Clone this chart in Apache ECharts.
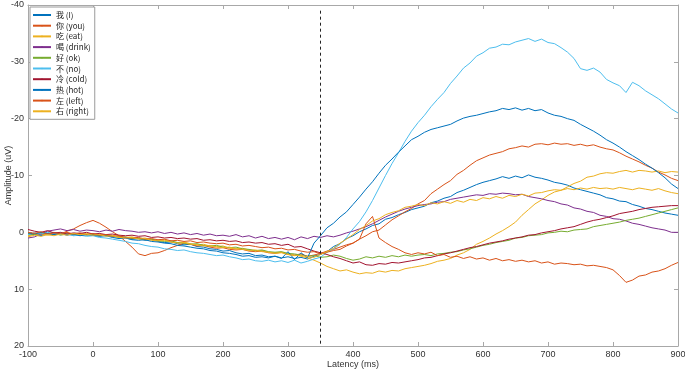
<!DOCTYPE html>
<html>
<head>
<meta charset="utf-8">
<script src="https://cdn.jsdelivr.net/npm/echarts@6/dist/echarts.min.js"></script>
<style>
  html, body { margin: 0; padding: 0; background: #fff; }
  #chart { width: 685px; height: 372px; }
</style>
</head>
<body>
<div id="chart"></div>
<script>
// sample times, 10 ms steps from -100 to 900
const latency = Array.from({ length: 101 }, (_, i) => -100 + i * 10)

const words = ['我 (I)', '你 (you)', '吃 (eat)', '喝 (drink)', '好 (ok)', '不 (no)', '冷 (cold)', '热 (hot)', '左 (left)', '右 (right)']
const colors = ['#0072BD', '#D95319', '#EDB120', '#7E2F8E', '#77AC30', '#4DBEEE', '#A2142F', '#0072BD', '#D95319', '#EDB120']

const xTicks = [-100, 900, 100]
const yTicks = [-40, 20, 10]

// amplitudes (uV), one row per 100 ms
const woI = [
  0.5, 0.3, 0.6, 0.2, 0.4, 0.1, 0.3, 0.5, 0.2, 0.4,
  0.3, 0.6, 0.5, 0.8, 0.7, 1.0, 1.2, 1.1, 1.4, 1.3,
  1.6, 1.8, 1.7, 2.0, 2.2, 2.1, 2.5, 2.6, 2.9, 3.0,
  3.3, 3.2, 3.6, 3.8, 3.7, 4.1, 4.0, 4.3, 4.2, 4.5,
  4.3, 4.6, 4.4, 4.7, 4.2, 3.9, 3.4, 2.5, 2.0, 1.1,
  0.6, -0.1, -0.6, -1.2, -1.5, -2.3, -2.6, -3.1, -3.5, -4.0,
  -4.3, -4.6, -5.2, -5.5, -6.0, -6.3, -7.0, -7.4, -7.9, -8.4,
  -8.8, -9.1, -9.4, -9.8, -9.5, -9.9, -9.6, -10.1, -9.7, -9.5,
  -9.2, -8.8, -8.6, -8.3, -7.8, -7.5, -7.2, -6.9, -6.6, -6.1,
  -5.9, -5.5, -5.4, -4.9, -4.6, -4.2, -4.0, -3.7, -3.4, -3.2,
  -3.0
]
const niYou = [
  0.3, 0.1, 0.4, 0.2, 0.0, 0.3, -0.2, -0.6, -1.2, -1.7,
  -2.1, -1.6, -0.9, -0.1, 0.6, 1.6, 2.6, 3.8, 4.1, 3.7,
  3.6, 3.2, 2.7, 2.3, 1.9, 2.1, 2.4, 2.3, 2.6, 2.8,
  2.7, 3.0, 3.1, 3.0, 3.3, 3.4, 3.3, 3.6, 3.7, 3.5,
  3.9, 4.0, 3.8, 4.2, 4.0, 3.7, 3.3, 3.0, 2.6, 2.2,
  1.9, 1.2, 0.6, -0.1, -0.4, -1.3, -2.2, -2.9, -3.6, -4.2,
  -5.0, -5.6, -6.8, -7.6, -8.4, -9.1, -10.2, -10.9, -11.8, -12.6,
  -13.1, -13.6, -13.9, -14.2, -14.7, -14.9, -15.2, -15.0, -15.5, -15.6,
  -15.4, -15.7, -15.5, -15.6, -15.3, -15.5, -15.2, -15.4, -15.0, -14.7,
  -14.5, -14.0, -13.4, -12.9, -12.4, -11.8, -11.3, -10.6, -10.1, -9.5,
  -9.1
]
const chiEat = [
  0.6, 0.4, 0.2, 0.5, 0.3, 0.4, 0.1, 0.3, 0.5, 0.2,
  0.4, 0.3, 0.6, 0.5, 0.8, 0.9, 0.8, 1.1, 1.0, 1.3,
  1.4, 1.3, 1.7, 1.8, 1.7, 2.0, 2.2, 2.1, 2.4, 2.5,
  2.4, 2.8, 2.9, 2.8, 3.1, 3.3, 3.2, 3.5, 3.6, 3.5,
  3.9, 4.0, 4.2, 4.5, 4.9, 5.4, 6.0, 6.4, 6.8, 6.6,
  7.0, 7.3, 7.1, 7.2, 6.8, 7.0, 6.7, 6.8, 6.4, 6.2,
  6.0, 5.8, 5.5, 5.1, 4.9, 4.6, 4.0, 3.6, 3.0, 2.1,
  1.6, 1.0, 0.3, -0.3, -1.0, -1.8, -3.0, -4.0, -5.0, -5.7,
  -6.5, -7.1, -7.4, -8.0, -8.6, -9.0, -9.7, -9.9, -10.3, -10.5,
  -10.4, -10.7, -10.9, -10.6, -10.9, -10.8, -10.6, -10.8, -10.5, -10.7,
  -10.6
]
const heDrink = [
  1.0, 0.8, 0.3, -0.2, -0.4, -0.6, -0.3, -0.5, -0.2, -0.4,
  -0.3, -0.1, -0.4, -0.2, -0.5, -0.3, -0.2, 0.0, -0.1, 0.1,
  -0.1, 0.2, 0.0, 0.3, 0.1, 0.4, 0.2, 0.5, 0.3, 0.6,
  0.5, 0.7, 0.4, 0.8, 0.6, 1.0, 0.7, 1.1, 0.9, 1.2,
  0.9, 1.3, 0.8, 1.1, 0.7, 0.9, 0.6, 0.8, 0.5, 0.1,
  -0.2, -0.6, -1.0, -1.5, -2.1, -2.7, -3.2, -3.7, -4.1, -4.4,
  -4.7, -4.9, -5.0, -5.3, -5.4, -5.8, -6.0, -6.2, -6.4, -6.6,
  -6.5, -6.8, -6.7, -6.9, -6.8, -6.6, -6.7, -6.3, -6.1, -5.9,
  -5.6, -5.4, -5.0, -4.8, -4.3, -4.1, -3.7, -3.5, -3.0, -2.8,
  -2.4, -2.3, -2.0, -1.6, -1.4, -1.1, -0.8, -0.6, -0.4, 0.0,
  0.0
]
const haoOk = [
  0.2, 0.4, 0.1, 0.3, 0.2, 0.5, 0.3, 0.4, 0.2, 0.5,
  0.4, 0.6, 0.5, 0.7, 0.9, 0.8, 1.1, 1.0, 1.3, 1.2,
  1.5, 1.6, 1.5, 1.8, 1.9, 2.1, 2.0, 2.3, 2.4, 2.3,
  2.6, 2.7, 2.6, 2.9, 3.0, 3.2, 3.1, 3.4, 3.5, 3.4,
  3.7, 3.8, 4.0, 4.2, 4.1, 4.4, 4.3, 4.0, 4.2, 4.6,
  4.9, 4.7, 4.3, 4.5, 4.2, 4.4, 4.1, 4.3, 4.0, 4.2,
  4.0, 3.9, 4.1, 3.8, 3.7, 3.5, 3.4, 3.1, 2.9, 2.6,
  2.3, 2.1, 1.8, 1.6, 1.4, 1.0, 0.9, 0.6, 0.5, 0.4,
  0.1, 0.0, -0.2, -0.1, -0.4, -0.5, -0.6, -1.0, -1.2, -1.4,
  -1.6, -1.8, -2.1, -2.3, -2.5, -2.8, -3.1, -3.4, -3.7, -4.0,
  -4.3
]
const buNo = [
  0.4, 0.1, 0.3, 0.0, 0.2, 0.4, 0.3, 0.6, 0.5, 0.7,
  0.6, 0.9, 1.0, 1.2, 1.4, 1.6, 1.9, 2.0, 2.3, 2.5,
  2.6, 2.9, 3.0, 3.2, 3.1, 3.4, 3.6, 3.7, 3.9, 4.1,
  4.0, 4.3, 4.5, 4.8, 4.7, 5.0, 5.1, 4.9, 5.2, 5.0,
  5.3, 4.9, 5.4, 5.1, 4.7, 4.4, 3.5, 2.9, 2.1, 0.9,
  -0.6, -1.9, -3.6, -5.6, -7.8, -10.0, -12.1, -14.0, -16.0, -17.8,
  -19.3, -20.6, -22.1, -23.4, -24.6, -26.2, -27.5, -28.9, -29.8, -31.0,
  -31.6, -32.4, -32.6, -33.1, -33.0, -33.5, -33.8, -34.1, -33.6, -34.0,
  -33.4, -33.2, -32.5, -31.7, -30.6, -28.8, -28.5, -28.9, -28.2, -26.9,
  -26.3, -25.8, -24.6, -26.4, -25.8, -24.9, -24.2, -23.5, -22.6, -21.7,
  -21.0
]
const lengCold = [
  -0.5, -0.2, 0.0, -0.3, 0.1, 0.0, 0.3, 0.1, 0.2, 0.0,
  0.3, 0.2, 0.4, 0.3, 0.5, 0.6, 0.5, 0.7, 0.6, 0.9,
  0.8, 1.0, 0.9, 1.1, 1.0, 1.2, 1.1, 1.4, 1.3, 1.5,
  1.4, 1.6, 1.5, 1.8, 1.7, 1.9, 1.8, 2.1, 2.0, 2.3,
  2.1, 2.6, 2.5, 2.9, 3.3, 3.6, 3.9, 4.3, 4.6, 5.0,
  5.4, 5.2, 5.7, 5.8, 5.5, 5.6, 5.3, 5.4, 5.2, 5.0,
  4.8, 4.5, 4.4, 4.1, 3.8, 3.6, 3.3, 3.0, 2.7, 2.5,
  2.2, 1.9, 1.7, 1.5, 1.2, 1.0, 0.8, 0.5, 0.4, 0.1,
  -0.1, -0.3, -0.6, -0.8, -1.0, -1.4, -1.8, -2.1, -2.3, -2.6,
  -2.9, -3.3, -3.5, -3.7, -4.0, -4.2, -4.4, -4.5, -4.6, -4.7,
  -4.7
]
const reHot = [
  0.1, 0.3, 0.0, 0.2, 0.4, 0.2, 0.5, 0.3, 0.6, 0.4,
  0.5, 0.7, 0.6, 0.9, 1.1, 1.0, 1.3, 1.4, 1.3, 1.6,
  1.7, 1.9, 2.0, 2.3, 2.4, 2.6, 2.8, 2.9, 3.2, 3.3,
  3.6, 3.7, 3.9, 4.2, 4.1, 4.4, 4.3, 4.5, 4.2, 4.6,
  3.4, 4.8, 3.6, 4.5, 1.9, 0.6, -0.8, -1.6, -2.7, -3.6,
  -4.9, -6.2, -7.6, -8.9, -10.4, -11.8, -12.9, -14.1, -15.2, -16.3,
  -16.9, -17.6, -18.1, -18.4, -18.7, -19.0, -19.6, -20.1, -20.4, -20.6,
  -20.9, -21.2, -21.4, -21.8, -21.6, -21.9, -21.5, -21.8, -21.4, -21.6,
  -21.0, -20.6, -20.4, -20.0, -19.7, -19.0, -18.4, -17.8, -17.1, -16.3,
  -15.7, -15.0, -14.2, -13.5, -12.8, -12.0, -11.3, -10.5, -9.6, -8.5,
  -7.7
]
const zuoLeft = [
  0.0, 0.2, -0.1, 0.3, 0.1, 0.2, 0.0, 0.3, 0.1, 0.4,
  0.2, 0.5, 0.4, 0.7, 0.6, 0.9, 1.0, 0.9, 1.2, 1.1,
  1.3, 1.2, 1.5, 1.4, 1.6, 1.5, 1.8, 1.7, 1.9, 2.0,
  1.9, 2.2, 2.1, 2.4, 2.3, 2.5, 2.7, 2.6, 2.9, 2.8,
  3.1, 3.0, 3.3, 3.5, 3.4, 3.8, 3.5, 3.2, 3.0, 2.4,
  1.9, 1.2, -1.5, -2.8, 1.0, 1.8, 2.5, 3.0, 3.6, 3.9,
  3.6, 3.8, 3.5, 4.1, 3.9, 4.4, 4.2, 4.6, 4.3, 4.7,
  4.5, 4.9, 4.6, 5.0, 4.8, 5.1, 4.9, 5.2, 5.0, 5.4,
  5.2, 5.6, 5.4, 5.5, 5.7, 5.6, 5.9, 5.8, 6.0, 6.2,
  6.6, 7.6, 8.8, 8.4, 7.7, 7.5, 7.0, 6.8, 6.4, 5.8,
  5.3
]
const youRight = [
  0.8, 0.5, 0.7, 0.4, 0.6, 0.3, 0.5, 0.2, 0.4, 0.3,
  0.5, 0.4, 0.7, 0.6, 0.9, 1.0, 0.9, 1.2, 1.1, 1.4,
  1.5, 1.4, 1.7, 1.9, 1.8, 2.1, 2.2, 2.4, 2.3, 2.6,
  2.7, 2.6, 2.9, 3.0, 3.2, 3.1, 3.4, 3.5, 3.7, 3.6,
  3.9, 4.1, 4.0, 4.3, 4.4, 3.9, 3.4, 2.8, 1.9, 1.2,
  0.4, -0.5, -1.2, -2.0, -2.4, -3.1, -3.5, -3.8, -4.4, -4.6,
  -4.9, -4.7, -5.2, -5.0, -5.4, -5.1, -5.6, -5.3, -5.8, -5.6,
  -6.1, -5.9, -6.3, -6.0, -6.5, -6.3, -6.7, -6.4, -6.9, -7.0,
  -7.3, -7.5, -7.4, -7.7, -7.5, -7.8, -7.6, -7.9, -7.7, -7.8,
  -7.6, -7.9, -7.7, -7.5, -7.8, -7.6, -7.4, -7.7, -7.3, -7.0,
  -6.8
]

const traces = [woI, niYou, chiEat, heDrink, haoOk, buNo, lengCold, reHot, zuoLeft, youRight]
const onsetMs = 350
const onsetSpan = [-39, 20]

const axisGray = '#a8a8a8'
const labelColor = '#333'
const font = 'Liberation Sans, Arial, sans-serif'

function frameAxis(position) {
    return {
        type: 'value',
        position,
        axisLine: { show: true, onZero: false, lineStyle: { color: axisGray } },
        axisTick: { show: true, inside: true, length: 4, lineStyle: { color: axisGray } },
        axisLabel: { show: false },
        splitLine: { show: false },
    }
}

const chart = echarts.init(document.getElementById('chart'), null, { renderer: 'canvas' })

chart.setOption({
    animation: false,
    backgroundColor: '#fff',
    grid: { left: 28, right: 7, top: 5, bottom: 26, containLabel: false, outerBoundsMode: 'none' },
    legend: {
        orient: 'vertical',
        left: 30,
        top: 7,
        data: words,
        itemWidth: 18,
        itemHeight: 2,
        itemGap: 0.7,
        padding: [3, 4, 3, 2],
        borderColor: '#9a9a9a',
        borderWidth: 1,
        backgroundColor: '#fff',
        textStyle: { fontSize: 8, lineHeight: 10, color: '#222', fontFamily: 'Noto Sans CJK SC, ' + font },
    },
    xAxis: [
        {
            ...frameAxis('bottom'),
            min: xTicks[0], max: xTicks[1], interval: xTicks[2],
            axisLabel: { show: true, color: labelColor, fontSize: 9, margin: 4, fontFamily: font },
            name: 'Latency (ms)',
            nameLocation: 'middle',
            nameGap: 14,
            nameMoveOverlap: false,
            nameTextStyle: { color: labelColor, fontSize: 9, fontFamily: font },
        },
        { ...frameAxis('top'), min: xTicks[0], max: xTicks[1], interval: xTicks[2] },
    ],
    yAxis: [
        {
            ...frameAxis('left'),
            inverse: true,
            min: yTicks[0], max: yTicks[1], interval: yTicks[2],
            axisLabel: { show: true, color: labelColor, fontSize: 9, margin: 4, fontFamily: font },
            name: 'Amplitude (uV)',
            nameLocation: 'middle',
            nameGap: 15,
            nameMoveOverlap: false,
            nameRotate: 90,
            nameTextStyle: { color: labelColor, fontSize: 9, fontFamily: font },
        },
        { ...frameAxis('right'), inverse: true, min: yTicks[0], max: yTicks[1], interval: yTicks[2] },
    ],
    series: traces.map((vals, k) => ({
        name: words[k],
        type: 'line',
        xAxisIndex: 0,
        yAxisIndex: 0,
        data: latency.map((t, i) => [t, vals[i]]),
        symbol: 'none',
        lineStyle: { width: 1, color: colors[k] },
        itemStyle: { color: colors[k] },
        markLine: k === 0 ? {
            silent: true,
            symbol: ['none', 'none'],
            label: { show: false },
            lineStyle: { color: '#222', type: [3, 3], width: 1 },
            data: [[{ coord: [onsetMs, onsetSpan[0]] }, { coord: [onsetMs, onsetSpan[1]] }]],
        } : undefined,
    })),
})
</script>
</body>
</html>
